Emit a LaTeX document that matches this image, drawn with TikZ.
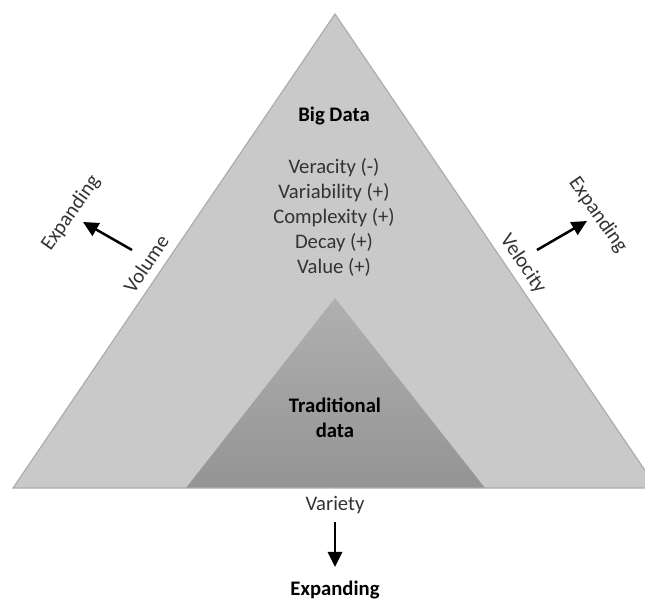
\documentclass[tikz,border=0pt]{standalone}
\usepackage{fontspec}
\setmainfont{Carlito}
\usetikzlibrary{arrows.meta}

\begin{document}
\begin{tikzpicture}[
    x=0.025cm,
    y=0.025cm,
    every node/.style={font=\fontsize{14.7}{17.8}\selectfont, text=black!80},
    bigtri/.style={fill=black!21},
    tradtri/.style={top color=black!31, bottom color=black!42},
    rim/.style={draw=black!33, line width=0.8pt},
    title/.style={font=\fontsize{14.7}{17.8}\selectfont\bfseries, text=black},
    outarrow/.style={-{Triangle[length=3.8mm,width=3.6mm]}, line width=1.8pt, draw=black}
]
\useasboundingbox (0,0) rectangle (645,599);
\clip (0,0) rectangle (645,599);

% corners of the two pyramids
\coordinate (top) at (335,585);
\coordinate (left) at (13,111);
\coordinate (right) at (657,111);
\coordinate (ttop) at (335,301);
\coordinate (tleft) at (186,111);
\coordinate (tright) at (485,111);

\fill[bigtri] (left) -- (top) -- (right) -- cycle;
\shade[tradtri] (tleft) -- (ttop) -- (tright) -- cycle;
\draw[rim] (left) -- (top) -- (right) -- cycle;

\node[title] (big) at (334,483) {Big Data};
\node[align=center] (traits) at (334,382) {Veracity (-)\\ Variability (+)\\ Complexity (+)\\ Decay (+)\\ Value (+)};
\node[title, align=center] (trad) at (335,181) {Traditional\\ data};

% the three sides
\node (variety) at (335,94) {Variety};
\node[rotate=55.8] (volume) at (146,335) {Volume};
\node[rotate=-55.8] (velocity) at (523,335) {Velocity};

\node[title] (expB) at (335,9) {Expanding};
\node[rotate=55] (expL) at (71,386) {Expanding};
\node[rotate=-55] (expR) at (598,384) {Expanding};

\coordinate (volA) at (132,349);
\coordinate (volB) at (83,377);
\coordinate (velA) at (537,349);
\coordinate (velB) at (587,378);
\coordinate (varA) at (335,77);
\coordinate (varB) at (335,32);

\draw[outarrow] (volA) -- (volB);
\draw[outarrow] (velA) -- (velB);
\draw[outarrow] (varA) -- (varB);

\end{tikzpicture}
\end{document}
